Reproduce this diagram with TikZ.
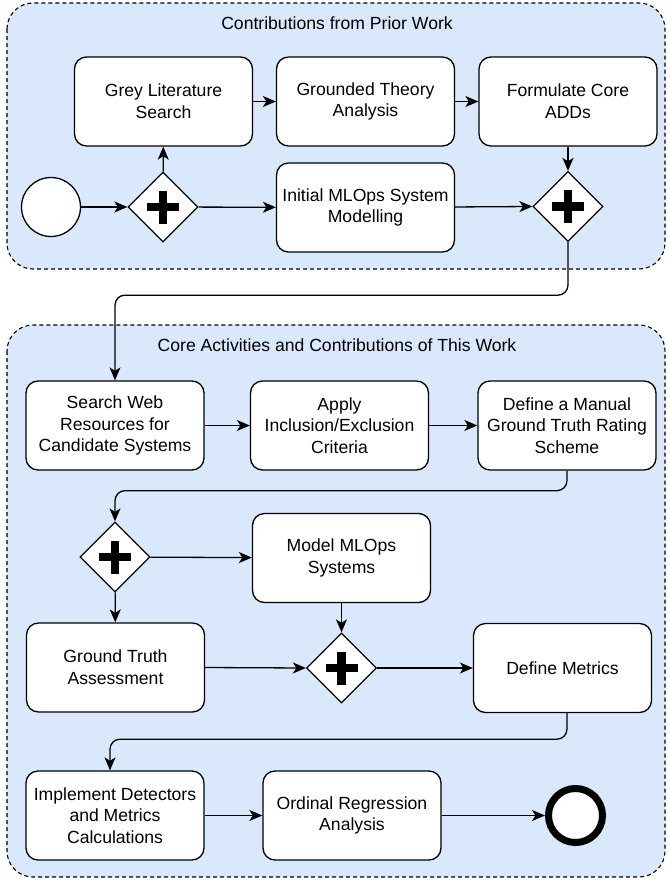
\documentclass[tikz,border=0pt]{standalone}
\usepackage{fontspec}
\setmainfont{Liberation Sans}
\usetikzlibrary{arrows.meta,shapes.geometric}
\definecolor{poolfill}{HTML}{DAE8FC}

\begin{document}
\begin{tikzpicture}[x=1pt,y=-1pt,
  font=\fontsize{17.6}{21.6}\selectfont,
  pool/.style={draw=black, fill=poolfill, dash pattern=on 4pt off 3pt,
    rounded corners=26pt, line width=1.1pt},
  pooltitle/.style={inner sep=0pt, anchor=center},
  task/.style={draw, fill=white, rounded corners=12pt, line width=1.3pt,
    minimum width=178pt, minimum height=89pt, align=center, inner sep=0pt},
  gateway/.style={draw, fill=white, diamond, minimum width=70pt,
    minimum height=70pt, inner sep=0pt, line width=1.3pt,
    path picture={
      \draw[line width=8.5pt]
        ([xshift=-16pt]path picture bounding box.center) --
        ([xshift=16pt]path picture bounding box.center)
        ([yshift=-16.5pt]path picture bounding box.center) --
        ([yshift=16.5pt]path picture bounding box.center);}},
  startevent/.style={draw, fill=white, circle, minimum size=59pt,
    inner sep=0pt, line width=1.3pt},
  endevent/.style={draw, fill=white, circle, minimum size=54pt,
    inner sep=0pt, line width=7pt},
  flow/.style={-{Stealth[length=13pt,width=11pt,inset=3.5pt]},
    line width=1.3pt, rounded corners=10pt},
]
\useasboundingbox (0,0) rectangle (668,878);

% lanes
\draw[pool] (7,3) rectangle (665,269);
\node[pooltitle] (t1) at (337,23) {Contributions from Prior Work};
\draw[pool] (7,325) rectangle (665,877);
\node[pooltitle] (t2) at (337,345) {Core Activities and Contributions of This Work};

% prior work
\node[task] (gls) at (163.5,101.5) {Grey Literature\\Search};
\node[task] (gta) at (365.5,101.5) {Grounded Theory\\Analysis};
\node[task] (fca) at (568,101.5) {Formulate Core\\ADDs};
\node[startevent] (start) at (51,207) {};
\node[gateway] (gw1) at (163,207) {};
\node[task] (init) at (365.5,207.5) {Initial MLOps System\\Modelling};
\node[gateway] (gw2) at (568,206.5) {};

% this work
\node[task] (sws) at (115,425.5) {Search Web\\Resources for\\Candidate Systems};
\node[task] (apply) at (339.5,425.5) {Apply\\Inclusion/Exclusion\\Criteria};
\node[task] (dmg) at (567,425.5) {Define a Manual\\Ground Truth Rating\\Scheme};
\node[gateway] (gw3) at (115,557) {};
\node[task] (model) at (341.5,558) {Model MLOps\\Systems};
\node[task] (gtass) at (115.5,667.5) {Ground Truth\\Assessment};
\node[gateway] (gw4) at (341.5,668) {};
\node[task] (dm) at (562.5,668) {Define Metrics};
\node[task] (impl) at (115,815.5) {Implement Detectors\\and Metrics\\Calculations};
\node[task] (ord) at (352,815.5) {Ordinal Regression\\Analysis};
\node[endevent] (end) at (575.5,815.5) {};

% sequence flows
\draw[flow] (start) -- (gw1);
\draw[flow] (gw1) -- (gls);
\draw[flow] (gw1) -- (init);
\draw[flow] (gls) -- (gta);
\draw[flow] (gta) -- (fca);
\draw[flow] (fca) -- (gw2);
\draw[flow] (init) -- (gw2.west);
\draw[flow] (gw2.south) -- ++(0,53) -| (sws.north);
\draw[flow] (sws) -- (apply);
\draw[flow] (apply) -- (dmg);
\draw[flow] (dmg.south) -- ++(0,20) -| (gw3.north);
\draw[flow] (gw3) -- (model);
\draw[flow] (gw3) -- (gtass);
\draw[flow] (model) -- (gw4);
\draw[flow] (gtass.east) -- (gw4.west);
\draw[flow] (gw4) -- (dm);
\draw[flow] ([xshift=4.5pt]dm.south) -- ++(0,26) -| ([xshift=-5pt]impl.north);
\draw[flow] (impl) -- (ord);
\draw[flow] (ord) -- (end);
\end{tikzpicture}
\end{document}
